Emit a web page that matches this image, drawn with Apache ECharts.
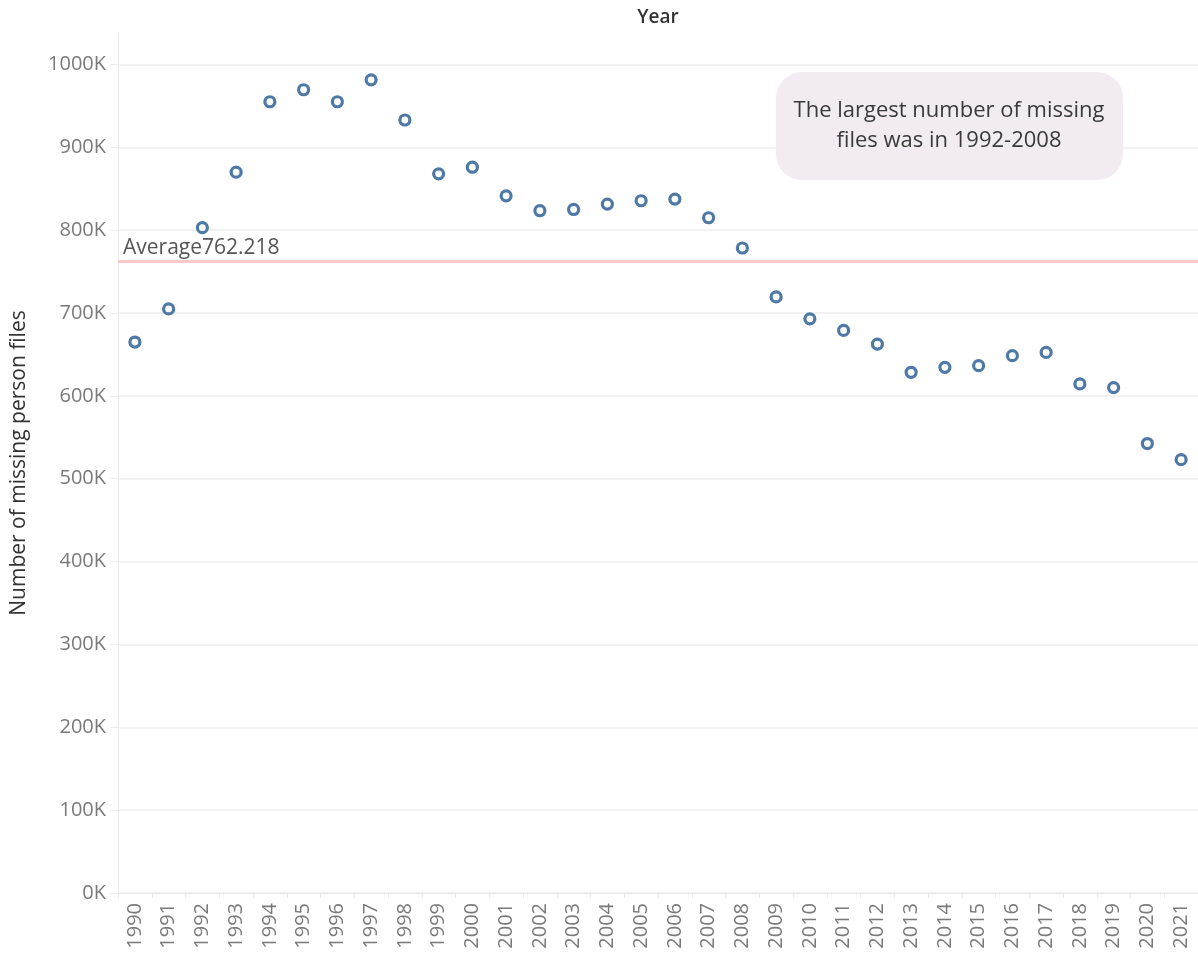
<!DOCTYPE html>
<html>
<head>
<meta charset="utf-8">
<script src="https://cdn.jsdelivr.net/npm/echarts@6/dist/echarts.min.js"></script>
<style>
html,body{margin:0;padding:0;background:#fff;}
#chart{width:1198px;height:953px;}
</style>
</head>
<body>
<div id="chart"></div>
<script>
const years = ['1990','1991','1992','1993','1994','1995','1996','1997','1998','1999','2000','2001','2002','2003','2004','2005','2006','2007','2008','2009','2010','2011','2012','2013','2014','2015','2016','2017','2018','2019','2020','2021'];
const missingFiles = [665000, 705000, 803000, 870000, 955000, 969500, 955000, 981500, 933000, 868000, 876000, 841500, 823500, 825000, 831500, 835500, 837500, 815000, 778500, 719500, 693000, 679000, 662500, 628500, 634500, 636500, 648500, 652500, 614500, 610000, 542500, 523000];
const yTickValues = [0, 100000, 200000, 300000, 400000, 500000, 600000, 700000, 800000, 900000, 1000000];
const averageValue = 762218;
const averageLabel = 'Average762.218';
const yAxisTitle = 'Number of missing person files';
const xAxisTitle = 'Year';
const annotationText = 'The largest number of missing\nfiles was in 1992-2008';

const FONT = '"Open Sans", sans-serif';
const chart = echarts.init(document.getElementById('chart'));
chart.setOption({
  animation: false,
  backgroundColor: '#ffffff',
  grid: { left: 118, right: 0, top: 33, bottom: 60, containLabel: false, outerBoundsMode: 'none' },
  xAxis: {
    type: 'category',
    data: years,
    boundaryGap: true,
    axisLine: { show: true, lineStyle: { color: '#e8e8e8', width: 1 } },
    axisTick: { show: true, alignWithLabel: false, length: 5, lineStyle: { color: '#e8e8e8' } },
    axisLabel: { rotate: 90, interval: 0, margin: 10, color: '#7a7a7a', fontSize: 20, fontFamily: FONT },
    splitLine: { show: false }
  },
  yAxis: {
    type: 'value',
    min: 0,
    max: 1038000,
    name: yAxisTitle,
    nameLocation: 'middle',
    nameRotate: 90,
    nameGap: 88,
    nameTextStyle: { color: '#333333', fontSize: 21, fontFamily: FONT, padding: [0, 0, 0, 0] },
    axisLine: { show: true, lineStyle: { color: '#ececec', width: 1 } },
    axisTick: { show: true, length: 8, customValues: yTickValues, lineStyle: { color: '#ececec' } },
    axisLabel: {
      customValues: yTickValues,
      margin: 12,
      color: '#7a7a7a', fontSize: 20, fontFamily: FONT,
      formatter: v => Math.round(v / 1000) + 'K'
    },
    splitLine: { show: true, lineStyle: { color: '#eeeeee', width: 1.5 } }
  },
  graphic: [
    {
      type: 'text', x: 658, y: 18,
      style: { text: xAxisTitle, x: 0, y: 0, textAlign: 'center', textVerticalAlign: 'middle', fill: '#333333', fontSize: 19, fontWeight: 600, fontFamily: FONT }
    },
    {
      type: 'rect',
      shape: { x: 776, y: 72, width: 347, height: 108, r: 26 },
      style: { fill: '#f2ecf2' },
      z: 1
    },
    {
      type: 'text',
      x: 949, y: 126,
      style: { text: annotationText, textAlign: 'center', textVerticalAlign: 'middle', fill: '#3a3a3a', fontSize: 22, lineHeight: 30, fontFamily: FONT },
      z: 2
    }
  ],
  series: [{
    type: 'scatter',
    data: missingFiles,
    symbol: 'circle',
    symbolSize: 10,
    itemStyle: { color: '#ffffff', borderColor: '#4e79a7', borderWidth: 3.2, opacity: 1 },
    z: 5,
    markLine: {
      silent: true,
      symbol: ['none', 'none'],
      lineStyle: { color: '#f7c9c9', width: 3, type: 'solid' },
      label: {
        show: true, position: 'insideStartTop', distance: [5, 3],
        formatter: averageLabel, color: '#555555', fontSize: 21, fontFamily: FONT
      },
      data: [{ yAxis: averageValue }]
    }
  }]
});
</script>
</body>
</html>
